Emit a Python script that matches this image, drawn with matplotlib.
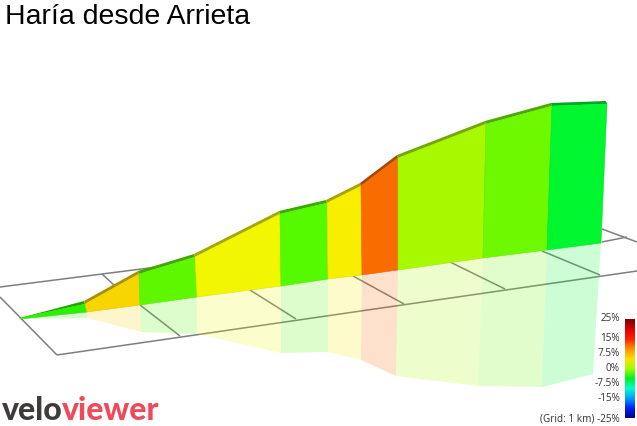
import matplotlib
matplotlib.use('Agg')
import matplotlib.pyplot as plt
from matplotlib.colors import LinearSegmentedColormap
import numpy as np

# Profile, in image pixels (10 gradient segments, 11 edges)
top_x = [20, 85, 139, 195, 280, 327, 361, 398, 486, 552, 607]
top_y = [319, 305, 275, 258, 215, 204, 187, 159, 125, 107, 105]
base_x = [20, 87, 140, 197, 281, 328, 362, 398, 483, 547, 601]
base_y = [320, 313, 306, 298, 287, 280, 276, 271, 259, 251, 244]
mirror_x = [20, 87, 141, 197, 281, 328, 361, 396, 478, 542, 593]
mirror_y = [320, 319, 333, 335, 354, 353, 361, 377, 387, 388, 375]
segment_colors = ['#2cf000', '#f7d600', '#5ef700', '#f2f700', '#55f900',
                  '#f7ee00', '#f96c00', '#a8f800', '#6ff900', '#00f62f']

# Ground grid, each line is (x0, y0, x1, y1)
grid_lines = [
    (57, 356, 637, 272), (0, 288, 157, 268), (602, 243, 627, 238),
    (0, 298, 57, 356), (102, 275, 115, 287), (140, 306, 180, 337),
    (250, 291, 296, 320), (353, 277, 404, 305), (450, 263, 505, 290),
    (542, 252, 600, 276), (602, 230, 637, 243),
]

scale_labels = ['25%', '15%', '7.5%', '0%', '-7.5%', '-15%', '(Grid: 1 km) -25%']
scale_label_y = [319, 339, 354, 369, 384, 399, 419]
scale_colors = ['#7a0000', '#e00000', '#ff2000', '#ff9000', '#ffe000', '#a0ff00',
                '#00f020', '#00ffd0', '#00a0ff', '#0020ff', '#000090']

fig = plt.figure(figsize=(6.37, 4.27), dpi=100)
ax = fig.add_axes([0, 0, 1, 1])
ax.set_xlim(0, 637)
ax.set_ylim(427, 0)
ax.axis('off')


def darker(color, k):
    rgb = np.array(matplotlib.colors.to_rgb(color))
    return rgb * k


# grid goes under everything
for x0, y0, x1, y1 in grid_lines:
    ax.plot([x0, x1], [y0, y1], color='#7f7f7f', lw=1.1, zorder=1, solid_capstyle='butt')

# faded reflection below the base
for i, c in enumerate(segment_colors):
    xs = [base_x[i], base_x[i + 1], mirror_x[i + 1], mirror_x[i]]
    ys = [base_y[i], base_y[i + 1], mirror_y[i + 1], mirror_y[i]]
    ax.fill(xs, ys, color=c, alpha=0.2, lw=0, zorder=2)

# road surface strip and wall
for i, c in enumerate(segment_colors):
    xs = [top_x[i], top_x[i + 1], top_x[i + 1] - 1, top_x[i] - 1]
    ys = [top_y[i], top_y[i + 1], top_y[i + 1] - 3, top_y[i] - 3]
    if i == 0:
        ys[3] = top_y[0]
        xs[3] = top_x[0]
    ax.fill(xs, ys, color=darker(c, 0.68), lw=0, zorder=3)
    xs = [base_x[i], base_x[i + 1], top_x[i + 1], top_x[i]]
    ys = [base_y[i], base_y[i + 1], top_y[i + 1], top_y[i]]
    ax.fill(xs, ys, color=c, ec=darker(c, 0.92), lw=0.4, zorder=4)

# Title
ax.text(5, 17, 'Haría desde Arrieta', fontsize=20.5, family='Liberation Sans',
        color='black', ha='left', va='center')

# Gradient scale
cmap = LinearSegmentedColormap.from_list('grad', scale_colors)
ramp = np.linspace(0, 1, 256).reshape(-1, 1)
ax.imshow(ramp, cmap=cmap, extent=(625, 635, 419, 320), aspect='auto', zorder=5)
ax.set_xlim(0, 637)
ax.set_ylim(427, 0)
for label, y in zip(scale_labels, scale_label_y):
    ax.text(620, y, label, fontsize=7.2, family='Open Sans', color='#333333',
            ha='right', va='center', zorder=6)

# Logo
ax.text(2, 411, 'velo', fontsize=23, family='Lato', weight='black', color='#3f3b3a',
        ha='left', va='center', zorder=6)
ax.text(62, 411, 'viewer', fontsize=23, family='Lato', weight='black', color='#ef4a5c',
        ha='left', va='center', zorder=6)

fig.savefig('out.png', dpi=100)
